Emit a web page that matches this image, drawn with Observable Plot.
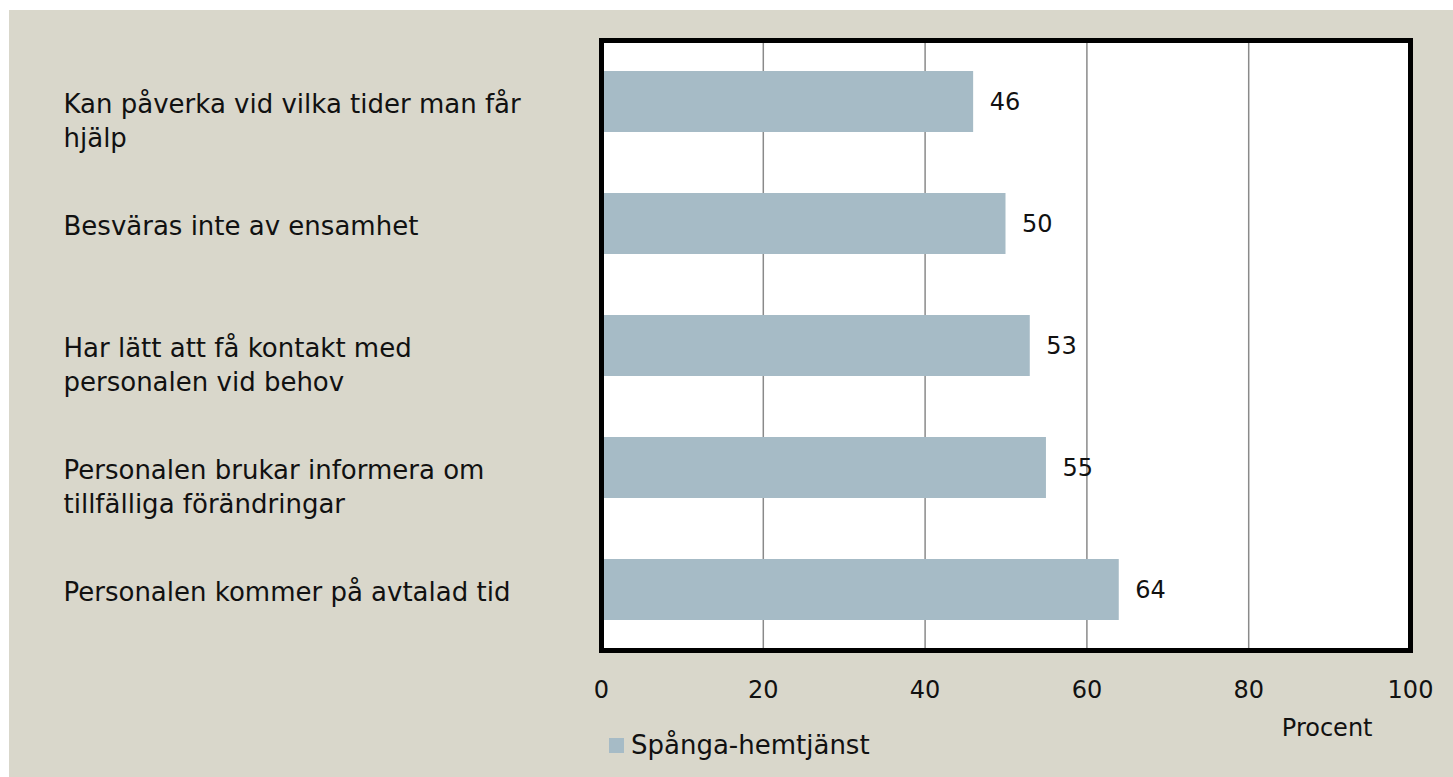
<!DOCTYPE html>
<html>
<head>
<meta charset="utf-8">
<script src="https://cdn.jsdelivr.net/npm/d3@7"></script>
<script src="https://cdn.jsdelivr.net/npm/@observablehq/plot@0.6"></script>
<style>
  html, body { margin: 0; padding: 0; background: #ffffff; }
  #wrap { position: relative; width: 1453px; height: 777px; overflow: hidden; }
  #bg { position: absolute; left: 9px; top: 10px; right: 0; bottom: 0; background: #d9d7cb; }
  #chart { position: absolute; left: 0; top: 0; }
  #legend { position: absolute; left: 609px; top: 728px; height: 34px; font-family: "DejaVu Sans", sans-serif; font-size: 26px; color: #111; display: flex; align-items: center; }
  #legend .sw { width: 15px; height: 15px; background: #a6bbc6; margin-right: 7px; }
</style>
</head>
<body>
<div id="wrap"><div id="bg"></div><div id="chart"></div><div id="legend"></div></div>
<script>
const categories = [
  "Kan påverka vid vilka tider man får hjälp",
  "Besväras inte av ensamhet",
  "Har lätt att få kontakt med personalen vid behov",
  "Personalen brukar informera om tillfälliga förändringar",
  "Personalen kommer på avtalad tid"
];
const categoryLabels = [
  "Kan påverka vid vilka tider man får\nhjälp",
  "Besväras inte av ensamhet",
  "Har lätt att få kontakt med\npersonalen vid behov",
  "Personalen brukar informera om\ntillfälliga förändringar",
  "Personalen kommer på avtalad tid"
];
const values = [46, 50, 53, 55, 64];
const xTicks = [0, 20, 40, 60, 80, 100];
const seriesName = "Spånga-hemtjänst";
const axisTitle = "Procent";

const data = categories.map((c, i) => ({category: c, label: categoryLabels[i], value: values[i]}));
const font = "DejaVu Sans, sans-serif";

const chart = Plot.plot({
  width: 1453,
  height: 777,
  marginLeft: 601,
  marginRight: 43,
  marginTop: 40,
  marginBottom: 127,
  style: {background: "transparent", fontFamily: font, color: "#111"},
  x: {domain: [0, 100], ticks: xTicks},
  y: {domain: categories, padding: 0.5, paddingOuter: 0.25, axis: null},
  marks: [
    Plot.frame({fill: "white", stroke: null}),
    Plot.gridX(xTicks.filter(t => t > 0 && t < 100), {stroke: "#8a8a8a", strokeOpacity: 1, strokeWidth: 1.5}),
    Plot.barX(data, {x: "value", y: "category", fill: "#a6bbc6"}),
    Plot.text(data, {x: "value", y: "category", text: d => String(d.value), dx: 16, textAnchor: "start", fontSize: 24, fill: "#111"}),
    Plot.frame({stroke: "#000", strokeWidth: 5}),
    Plot.text(data, {y: "category", text: "label", frameAnchor: "left", dx: -538, textAnchor: "start", lineAnchor: "top", dy: -14, lineHeight: 1.33, fontSize: 26, fill: "#111"}),
    Plot.axisX(xTicks, {tickSize: 0, tickPadding: 30, fontSize: 24, label: null, fill: "#111"}),
    Plot.text([axisTitle], {frameAnchor: "bottom-right", dx: -38, dy: 85, textAnchor: "end", fontSize: 24, fill: "#111"})
  ]
});
document.getElementById("chart").appendChild(chart);
document.getElementById("legend").innerHTML = `<div class="sw"></div><span>${seriesName}</span>`;
</script>
</body>
</html>
